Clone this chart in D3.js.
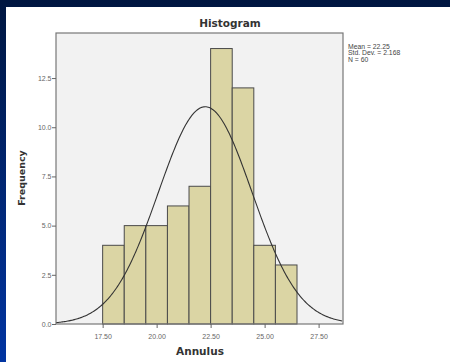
<!DOCTYPE html>
<html>
<head>
<meta charset="utf-8">
<script src="https://cdn.jsdelivr.net/npm/d3@7"></script>
<style>
  html, body { margin: 0; padding: 0; }
  body { width: 450px; height: 362px; overflow: hidden; }
  svg { display: block; }
</style>
</head>
<body>
<svg id="chart" width="450" height="362"></svg>
<script>
// Histogram bins (lower edges, width 1) and counts
const binStarts = [17.5, 18.5, 19.5, 20.5, 21.5, 22.5, 23.5, 24.5, 25.5];
const counts    = [4, 5, 5, 6, 7, 14, 12, 4, 3];
const binWidth  = 1;
const xTicks    = [17.5, 20, 22.5, 25, 27.5];
const yTicks    = [0, 2.5, 5, 7.5, 10, 12.5];
const statLines = ["Mean = 22.25", "Std. Dev. = 2.168", "N = 60"];
const mean = 22.25, sd = 2.168, n = 60;

const svg = d3.select("#chart");
const W = 450, H = 362;

// Slide-style background
const defs = svg.append("defs");
const g1 = defs.append("linearGradient").attr("id", "bg").attr("x1", 0).attr("y1", 0).attr("x2", 0).attr("y2", 1);
g1.append("stop").attr("offset", "0%").attr("stop-color", "#001640");
g1.append("stop").attr("offset", "100%").attr("stop-color", "#0135a2");
svg.append("rect").attr("width", W).attr("height", H).attr("fill", "url(#bg)");
svg.append("rect").attr("x", 6).attr("y", 7).attr("width", W - 6).attr("height", H - 7).attr("fill", "#ffffff");

const plot = { left: 56, right: 343, top: 33, bottom: 324 };

const x = d3.scaleLinear().domain([15.34, 28.63]).range([plot.left, plot.right]);
const y = d3.scaleLinear().domain([0, 14.79]).range([plot.bottom, plot.top]);

// Plot background
svg.append("rect")
  .attr("x", plot.left).attr("y", plot.top)
  .attr("width", plot.right - plot.left).attr("height", plot.bottom - plot.top)
  .attr("fill", "#f2f2f2");

// Bars
svg.append("g").selectAll("rect")
  .data(binStarts.map((s, i) => ({ s, c: counts[i] })))
  .join("rect")
  .attr("x", d => x(d.s))
  .attr("y", d => y(d.c))
  .attr("width", d => x(d.s + binWidth) - x(d.s))
  .attr("height", d => y(0) - y(d.c))
  .attr("fill", "#dbd5a4")
  .attr("stroke", "#4a4a4a")
  .attr("stroke-width", 1);

// Normal curve scaled to counts
const curveX = d3.range(15.34, 28.63, 0.05);
const dens = v => n * binWidth * Math.exp(-0.5 * ((v - mean) / sd) ** 2) / (sd * Math.sqrt(2 * Math.PI));
svg.append("path")
  .datum(curveX)
  .attr("d", d3.line().x(v => x(v)).y(v => y(dens(v))))
  .attr("fill", "none")
  .attr("stroke", "#333")
  .attr("stroke-width", 1.1);

// Frame
svg.append("rect")
  .attr("x", plot.left).attr("y", plot.top)
  .attr("width", plot.right - plot.left).attr("height", plot.bottom - plot.top)
  .attr("fill", "none").attr("stroke", "#777").attr("stroke-width", 1.2);

// Axes
const xAxis = svg.append("g")
  .attr("transform", `translate(0,${plot.bottom})`)
  .call(d3.axisBottom(x).tickValues(xTicks).tickFormat(d3.format(".2f")).tickSize(4).tickSizeOuter(0));
const yAxis = svg.append("g")
  .attr("transform", `translate(${plot.left},0)`)
  .call(d3.axisLeft(y).tickValues(yTicks).tickFormat(d3.format(".1f")).tickSize(4).tickSizeOuter(0));
[xAxis, yAxis].forEach(a => {
  a.select(".domain").remove();
  a.selectAll(".tick line").attr("stroke", "#666");
  a.selectAll(".tick text")
    .attr("fill", "#666")
    .style("font-family", "'Liberation Sans', Arial, sans-serif")
    .style("font-size", "7px");
});
xAxis.selectAll(".tick text").attr("dy", "1.1em");
yAxis.selectAll(".tick text").attr("x", -4.5);

// Titles
svg.append("text")
  .attr("x", 230).attr("y", 27)
  .attr("text-anchor", "middle")
  .style("font-family", "'DejaVu Sans', sans-serif")
  .style("font-weight", "bold").style("font-size", "10.5px")
  .attr("fill", "#333")
  .text("Histogram");

svg.append("text")
  .attr("x", 200).attr("y", 355)
  .attr("text-anchor", "middle")
  .style("font-family", "'DejaVu Sans', sans-serif")
  .style("font-weight", "bold").style("font-size", "10.5px")
  .attr("fill", "#333")
  .text("Annulus");

svg.append("text")
  .attr("transform", "translate(25,178) rotate(-90)")
  .attr("text-anchor", "middle")
  .style("font-family", "'DejaVu Sans', sans-serif")
  .style("font-weight", "bold").style("font-size", "9.5px")
  .attr("fill", "#333")
  .text("Frequency");

// Summary statistics
svg.append("g").selectAll("text")
  .data(statLines)
  .join("text")
  .attr("x", 348)
  .attr("y", (d, i) => 49 + i * 6.4)
  .style("font-family", "'Liberation Sans', Arial, sans-serif")
  .style("font-size", "6.8px")
  .attr("fill", "#444")
  .text(d => d);
</script>
</body>
</html>
